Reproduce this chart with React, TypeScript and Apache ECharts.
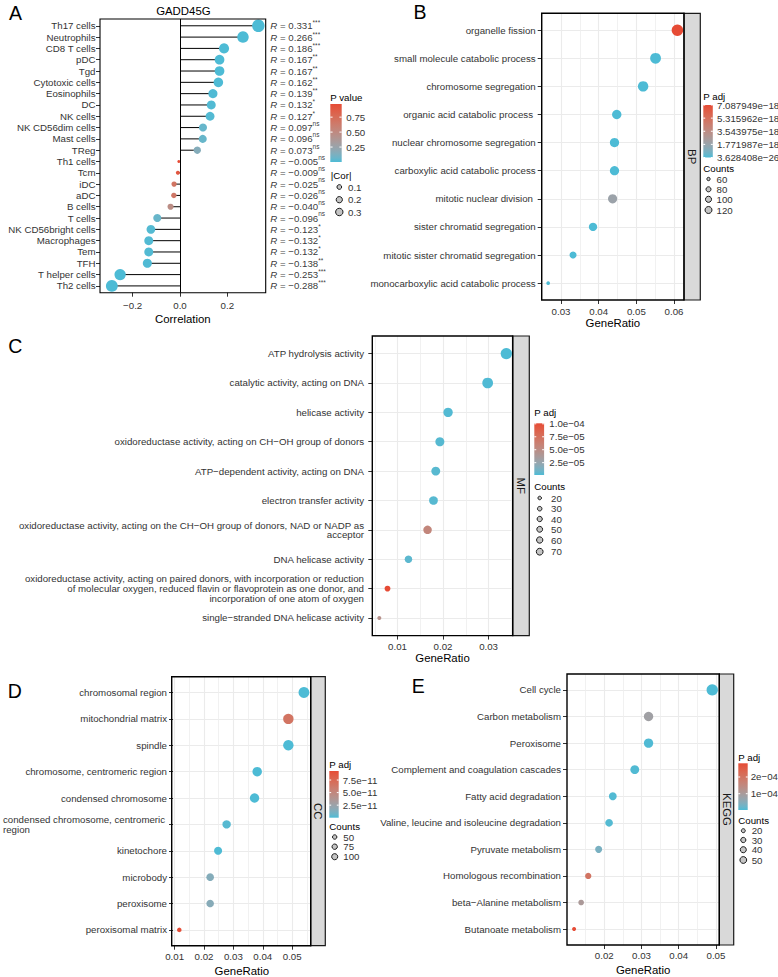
import React, { useEffect, useRef } from 'react';
import * as echarts from 'echarts';

const FONT = '"Liberation Sans", Arial, Helvetica, sans-serif';
const TICK_FS = 9.7;
const TITLE_FS = 11.4;
const TEXT_COLOR = '#333333';

// ---------------- Panel A data ----------------
const immuneCells = ['Th17 cells', 'Neutrophils', 'CD8 T cells', 'pDC', 'Tgd', 'Cytotoxic cells', 'Eosinophils', 'DC', 'NK cells', 'NK CD56dim cells', 'Mast cells', 'TReg', 'Th1 cells', 'Tcm', 'iDC', 'aDC', 'B cells', 'T cells', 'NK CD56bright cells', 'Macrophages', 'Tem', 'TFH', 'T helper cells', 'Th2 cells'];
const corValues = [0.331, 0.266, 0.186, 0.167, 0.167, 0.162, 0.139, 0.132, 0.127, 0.097, 0.096, 0.073, -0.005, -0.009, -0.025, -0.026, -0.040, -0.096, -0.123, -0.132, -0.132, -0.138, -0.253, -0.288];
const corPValues = [2e-10, 1.5e-7, 2.6e-4, 1.1e-3, 1.1e-3, 1.5e-3, 6.5e-3, 0.0105, 0.0135, 0.059, 0.061, 0.155, 0.97, 0.9, 0.68, 0.66, 0.47, 0.062, 0.016, 0.0105, 0.0105, 0.0069, 6e-7, 1e-8];
const corStars = ['***', '***', '***', '**', '**', '**', '**', '*', '*', 'ns', 'ns', 'ns', 'ns', 'ns', 'ns', 'ns', 'ns', 'ns', '*', '*', '*', '**', '***', '***'];
const ticksA = [-0.2, 0, 0.2];
const legendPValueA = [0.25, 0.5, 0.75];
const legendPValueALabels = ['0.25', '0.50', '0.75'];
const legendCorA = [0.1, 0.2, 0.3];

// ---------------- Panel B (BP) ----------------
const bpTerms = ['organelle fission', 'small molecule catabolic process', 'chromosome segregation', 'organic acid catabolic process ', 'nuclear chromosome segregation', 'carboxylic acid catabolic process', 'mitotic nuclear division ', 'sister chromatid segregation', 'mitotic sister chromatid segregation', 'monocarboxylic acid catabolic process'];
const bpGeneRatio = [0.0609, 0.0551, 0.0518, 0.0448, 0.0442, 0.0442, 0.0437, 0.0385, 0.0332, 0.0266];
const bpCounts = [122, 110, 104, 90, 88, 88, 87, 77, 66, 53];
const bpPadj = [7.087949e-18, 2.1e-22, 3.628408e-26, 4.5e-21, 1.2e-23, 5.3e-21, 1.9e-18, 8.2e-24, 1.6e-22, 3.1e-20];
const ticksB = [0.03, 0.04, 0.05, 0.06];
const minorB = [0.025, 0.035, 0.045, 0.055];
const legendPadjB = [3.628408e-26, 1.771987e-18, 3.543975e-18, 5.315962e-18, 7.087949e-18];
const legendPadjBLabels = ['3.628408e\u221226', '1.771987e\u221218', '3.543975e\u221218', '5.315962e\u221218', '7.087949e\u221218'];
const legendCountsB = [60, 80, 100, 120];

// ---------------- Panel C (MF) ----------------
const mfTerms = ['ATP hydrolysis activity', 'catalytic activity, acting on DNA', 'helicase activity', 'oxidoreductase activity, acting on CH\u2212OH group of donors', 'ATP\u2212dependent activity, acting on DNA', 'electron transfer activity', 'oxidoreductase activity, acting on the CH\u2212OH group of donors, NAD or NADP as\nacceptor', 'DNA helicase activity', 'oxidoreductase activity, acting on paired donors, with incorporation or reduction\nof molecular oxygen, reduced flavin or flavoprotein as one donor, and\nincorporation of one atom of oxygen', 'single\u2212stranded DNA helicase activity'];
const mfGeneRatio = [0.0339, 0.0298, 0.0211, 0.0193, 0.0184, 0.0179, 0.0166, 0.0124, 0.0078, 0.0060];
const mfCounts = [73, 64, 45, 41, 40, 38, 36, 27, 17, 13];
const mfPadj = [1.2e-6, 1.9e-6, 2.6e-6, 3.3e-6, 3.9e-6, 3.5e-6, 5.6e-5, 4.8e-6, 1.01e-4, 4.6e-5];
const ticksC = [0.01, 0.02, 0.03];
const minorC = [0.005, 0.015, 0.025, 0.035];
const legendPadjC = [2.5e-5, 5e-5, 7.5e-5, 1e-4];
const legendPadjCLabels = ['2.5e\u221205', '5.0e\u221205', '7.5e\u221205', '1.0e\u221204'];
const legendCountsC = [20, 30, 40, 50, 60, 70];

// ---------------- Panel D (CC) ----------------
const ccTerms = ['chromosomal region', 'mitochondrial matrix', 'spindle', 'chromosome, centromeric region', 'condensed chromosome', 'condensed chromosome, centromeric\nregion', 'kinetochore', 'microbody', 'peroxisome', 'peroxisomal matrix'];
const ccGeneRatio = [0.0540, 0.0487, 0.0487, 0.0381, 0.0372, 0.0277, 0.0248, 0.0221, 0.0221, 0.0116];
const ccCounts = [119, 107, 107, 84, 82, 61, 55, 49, 49, 26];
const ccPadj = [1e-20, 6.6e-11, 2.2e-17, 4.4e-15, 1.3e-14, 2.2e-12, 3.5e-13, 1.5e-11, 1.6e-11, 9.3e-11];
const ticksD = [0.01, 0.02, 0.03, 0.04, 0.05];
const minorD = [0.015, 0.025, 0.035, 0.045, 0.055];
const legendPadjD = [2.5e-11, 5e-11, 7.5e-11];
const legendPadjDLabels = ['2.5e\u221211', '5.0e\u221211', '7.5e\u221211'];
const legendCountsD = [50, 75, 100];

// ---------------- Panel E (KEGG) ----------------
const keggTerms = ['Cell cycle', 'Carbon metabolism', 'Peroxisome', 'Complement and coagulation cascades', 'Fatty acid degradation', 'Valine, leucine and isoleucine degradation', 'Pyruvate metabolism', 'Homologous recombination', 'beta\u2212Alanine metabolism', 'Butanoate metabolism'];
const keggGeneRatio = [0.0490, 0.0319, 0.0319, 0.0282, 0.0223, 0.0213, 0.0185, 0.0157, 0.0138, 0.0119];
const keggCounts = [52, 34, 34, 30, 24, 23, 20, 17, 15, 13];
const keggPadj = [2.4e-6, 8.5e-5, 4.1e-6, 5.2e-6, 6.0e-6, 7.3e-6, 3.6e-5, 2.0e-4, 1.05e-4, 2.82e-4];
const ticksE = [0.02, 0.03, 0.04, 0.05];
const minorE = [0.015, 0.025, 0.035, 0.045];
const legendPadjE = [1e-4, 2e-4];
const legendPadjELabels = ['1e\u221204', '2e\u221204'];
const legendCountsE = [20, 30, 40, 50];

// ---------------- colour helpers (Lab interpolation like ggplot) ----------------
const LOW = '#4DBBD5';
const HIGH = '#E64B35';
function s2l(c: number) { c /= 255; return c <= 0.04045 ? c / 12.92 : Math.pow((c + 0.055) / 1.055, 2.4); }
function l2s(c: number) { const v = c <= 0.0031308 ? 12.92 * c : 1.055 * Math.pow(c, 1 / 2.4) - 0.055; return Math.round(Math.max(0, Math.min(1, v)) * 255); }
const XN = 0.95047, YN = 1, ZN = 1.08883;
function fLab(t: number) { return t > 0.008856 ? Math.cbrt(t) : 7.787 * t + 16 / 116; }
function fInv(t: number) { return t * t * t > 0.008856 ? t * t * t : (t - 16 / 116) / 7.787; }
function hexToLab(h: string) {
  const r = s2l(parseInt(h.slice(1, 3), 16)), g = s2l(parseInt(h.slice(3, 5), 16)), b = s2l(parseInt(h.slice(5, 7), 16));
  const X = 0.4124 * r + 0.3576 * g + 0.1805 * b;
  const Y = 0.2126 * r + 0.7152 * g + 0.0722 * b;
  const Z = 0.0193 * r + 0.1192 * g + 0.9505 * b;
  const fy = fLab(Y / YN);
  return [116 * fy - 16, 500 * (fLab(X / XN) - fy), 200 * (fy - fLab(Z / ZN))];
}
function labToHex(L: number, a: number, b: number) {
  const fy = (L + 16) / 116, fx = fy + a / 500, fz = fy - b / 200;
  const X = XN * fInv(fx), Y = YN * fInv(fy), Z = ZN * fInv(fz);
  const r = 3.2406 * X - 1.5372 * Y - 0.4986 * Z;
  const g = -0.9689 * X + 1.8758 * Y + 0.0415 * Z;
  const bb = 0.0557 * X - 0.2040 * Y + 1.0570 * Z;
  const hx = (v: number) => l2s(v).toString(16).padStart(2, '0');
  return '#' + hx(r) + hx(g) + hx(bb);
}
const labLow = hexToLab(LOW), labHigh = hexToLab(HIGH);
const N_STOPS = 15;
const STOPS = Array.from({ length: N_STOPS }, (_, i) => {
  const t = i / (N_STOPS - 1);
  return labToHex(labLow[0] + (labHigh[0] - labLow[0]) * t, labLow[1] + (labHigh[1] - labLow[1]) * t, labLow[2] + (labHigh[2] - labLow[2]) * t);
});

function sizeScale(vals: number[], dmin: number, dmax: number) {
  const lo = Math.min(...vals), hi = Math.max(...vals);
  return (v: number) => dmin + (dmax - dmin) * Math.sqrt(Math.max(0, Math.min(1, (v - lo) / (hi - lo))));
}
const minus = (s: string) => s.replace(/-/g, '\u2212');

type Box = { l: number; t: number; r: number; b: number };

function buildOption() {
  const grid: any[] = [];
  const xAxis: any[] = [];
  const yAxis: any[] = [];
  const series: any[] = [];
  const visualMap: any[] = [];
  const g: any[] = [];

  const text = (t: string, x: number, y: number, o: any = {}) => {
    g.push({
      type: 'text', x, y, z: 120, silent: true, rotation: o.rot || 0,
      style: {
        text: t, fill: o.fill || '#000', fontSize: o.fs || TICK_FS, fontFamily: FONT,
        align: o.align || 'left', textAlign: o.align || 'left',
        verticalAlign: 'middle', textVerticalAlign: 'middle',
      },
    });
  };
  const border = (bx: Box, w: number) => {
    g.push({ type: 'rect', z: 110, silent: true, shape: { x: bx.l, y: bx.t, width: bx.r - bx.l, height: bx.b - bx.t }, style: { fill: 'none', stroke: '#000', lineWidth: w } });
  };
  const strip = (bx: Box, w: number, label: string) => {
    g.push({ type: 'rect', z: 105, silent: true, shape: { x: bx.r, y: bx.t, width: w, height: bx.b - bx.t }, style: { fill: '#D9D9D9', stroke: '#1A1A1A', lineWidth: 1.2 } });
    text(label, bx.r + w / 2, (bx.t + bx.b) / 2, { rot: -Math.PI / 2, align: 'center', fs: TITLE_FS, fill: '#1A1A1A' });
  };
  const colorLegend = (c: any, pmin: number, pmax: number, vals: number[], labels: string[]) => {
    text(c.title, c.titleX, c.titleY);
    const stops = STOPS.map((col, i) => ({ offset: i / (N_STOPS - 1), color: col }));
    g.push({ type: 'rect', z: 115, silent: true, shape: { x: c.barX, y: c.barTop, width: c.barW, height: c.barBottom - c.barTop }, style: { fill: new echarts.graphic.LinearGradient(0, 1, 0, 0, stops) } });
    vals.forEach((v, i) => {
      const y = c.barBottom - (v - pmin) / (pmax - pmin) * (c.barBottom - c.barTop);
      const tl = c.barW / 5;
      g.push({ type: 'line', z: 116, silent: true, shape: { x1: c.barX, y1: y, x2: c.barX + tl, y2: y }, style: { stroke: '#fff', lineWidth: 1 } });
      g.push({ type: 'line', z: 116, silent: true, shape: { x1: c.barX + c.barW - tl, y1: y, x2: c.barX + c.barW, y2: y }, style: { stroke: '#fff', lineWidth: 1 } });
      text(labels[i], c.labelX, y, { fill: TEXT_COLOR });
    });
  };
  const sizeLegend = (c: any, vals: number[], labels: string[], sz: (v: number) => number) => {
    text(c.sizeTitle, c.titleX, c.sizeTitleY);
    vals.forEach((v, i) => {
      const r = Math.max(1.2, 0.35 * sz(v) - 0.5);
      g.push({ type: 'circle', z: 115, silent: true, shape: { cx: c.circleX, cy: c.circleYs[i], r }, style: { fill: '#C4C4C4', stroke: '#1A1A1A', lineWidth: 1 } });
      text(labels[i], c.sizeLabelX, c.circleYs[i], { fill: TEXT_COLOR });
    });
  };

  // ---------------- Panel A ----------------
  const A: Box = { l: 100, t: 19, r: 265.7, b: 292.7 };
  const idxA = immuneCells.map((_, i) => i);
  grid.push({ left: A.l, top: A.t, width: A.r - A.l, height: A.b - A.t });
  const aXMax = 0.362;
  xAxis.push({
    gridIndex: 0, type: 'value', min: -0.338, max: aXMax, position: 'bottom',
    axisLine: { show: false, onZero: false },
    axisTick: { show: true, length: 4, customValues: ticksA, lineStyle: { color: '#333', width: 1 } },
    axisLabel: { customValues: ticksA, formatter: (v: number) => minus(v.toFixed(1)), margin: 8, fontSize: TICK_FS, color: TEXT_COLOR, fontFamily: FONT },
    splitLine: { show: false },
    name: 'Correlation', nameLocation: 'middle', nameGap: 20.6,
    nameTextStyle: { fontSize: TITLE_FS, color: '#000', fontFamily: FONT },
  });
  yAxis.push({
    gridIndex: 0, type: 'value', inverse: true, min: -0.6, max: immuneCells.length - 0.4, position: 'left',
    axisLine: { show: false, onZero: false },
    axisTick: { show: true, length: 4, customValues: idxA, lineStyle: { color: '#333', width: 1 } },
    axisLabel: { customValues: idxA, formatter: (v: number) => immuneCells[Math.round(v)], margin: 4.5, fontSize: TICK_FS, color: TEXT_COLOR, fontFamily: FONT },
    splitLine: { show: false },
  });
  const sizeA = sizeScale(corValues.map(Math.abs), 3, 12.5);
  series.push({
    type: 'custom', xAxisIndex: 0, yAxisIndex: 0, z: 2, silent: true,
    data: corValues.map((v, i) => [v, i]),
    renderItem: (_p: any, api: any) => {
      const p0 = api.coord([0, api.value(1)]);
      const p1 = api.coord([api.value(0), api.value(1)]);
      return { type: 'line', shape: { x1: p0[0], y1: p0[1], x2: p1[0], y2: p1[1] }, style: { stroke: '#000', lineWidth: 1 } };
    },
  });
  const aDotsIndex = series.length;
  series.push({
    type: 'scatter', xAxisIndex: 0, yAxisIndex: 0, z: 3, silent: true,
    data: corValues.map((v, i) => [v, i, Math.abs(v), corPValues[i]]),
    symbolSize: (v: number[]) => sizeA(v[2]),
    itemStyle: { opacity: 1 },
    markLine: { silent: true, symbol: ['none', 'none'], label: { show: false }, lineStyle: { type: 'solid', color: '#000', width: 1 }, data: [{ xAxis: 0 }] },
  });
  visualMap.push({ type: 'continuous', show: false, seriesIndex: aDotsIndex, dimension: 3, min: Math.min(...corPValues), max: Math.max(...corPValues), inRange: { color: STOPS } });
  series.push({
    type: 'scatter', xAxisIndex: 0, yAxisIndex: 0, z: 4, silent: true,
    data: corValues.map((_, i) => [aXMax, i]),
    symbolSize: 0.01, itemStyle: { color: 'rgba(0,0,0,0)' },
    label: {
      show: true, position: 'right', distance: 4.6,
      formatter: (p: any) => {
        const i = p.dataIndex;
        const st = corStars[i];
        return `{i|R}{n| = ${minus(corValues[i].toFixed(3))}}{${st === 'ns' ? 'ns' : 'st'}|${st}}`;
      },
      rich: {
        i: { fontStyle: 'italic', fontSize: TICK_FS, fontFamily: FONT, color: '#000' },
        n: { fontSize: TICK_FS, fontFamily: FONT, color: '#000' },
        st: { fontSize: 6.5, fontFamily: FONT, color: '#000', padding: [0, 0, 6, 0] },
        ns: { fontSize: 6.5, fontFamily: FONT, color: '#000', padding: [0, 0, 8.4, 0] },
      },
    },
  });
  border(A, 1.1);
  text('GADD45G', (A.l + A.r) / 2 + 0.5, 10.7, { align: 'center', fs: TITLE_FS });
  text('A', 9, 13, { fs: 19.5 });
  colorLegend({ title: 'P value', titleX: 330.3, titleY: 97.7, barX: 330.3, barTop: 104, barBottom: 162, barW: 11.4, labelX: 346.3 }, Math.min(...corPValues), Math.max(...corPValues), legendPValueA, legendPValueALabels);
  sizeLegend({ sizeTitle: '|Cor|', titleX: 330.8, sizeTitleY: 175, circleX: 339.3, circleYs: [187, 199.7, 212], sizeLabelX: 348 }, legendCorA, legendCorA.map(String), sizeA);

  // ---------------- Panels B-E ----------------
  const panels = [
    {
      letter: 'B', letterX: 413.5, letterY: 12, terms: bpTerms, ratio: bpGeneRatio, counts: bpCounts, padj: bpPadj,
      box: { l: 541.7, t: 13.3, r: 684, b: 300 }, stripW: 16.3, stripLabel: 'BP',
      xmin: 0.02488, xmax: 0.06265, ticks: ticksB, minor: minorB, yMargin: 6, xMargin: 6, nameGap: 17,
      dmin: 3.7, dmax: 11.5,
      cl: { title: 'P adj', titleX: 703.3, titleY: 96, barX: 703.3, barTop: 105, barBottom: 157.5, barW: 9.5, labelX: 717 },
      lv: legendPadjB, ll: legendPadjBLabels,
      sl: { sizeTitle: 'Counts', titleX: 703.3, sizeTitleY: 168, circleX: 708.5, circleYs: [179, 189.3, 199.3, 210], sizeLabelX: 716.5 },
      cv: legendCountsB,
    },
    {
      letter: 'C', letterX: 8.3, letterY: 345.7, terms: mfTerms, ratio: mfGeneRatio, counts: mfCounts, padj: mfPadj,
      box: { l: 372.3, t: 336, r: 512.7, b: 635.6 }, stripW: 16.6, stripLabel: 'MF',
      xmin: 0.00446, xmax: 0.0353, ticks: ticksC, minor: minorC, yMargin: 8.3, xMargin: 6.2, nameGap: 16.7,
      dmin: 4, dmax: 11.3,
      cl: { title: 'P adj', titleX: 534.3, titleY: 412.7, barX: 534.3, barTop: 423.3, barBottom: 475, barW: 9.8, labelX: 549.3 },
      lv: legendPadjC, ll: legendPadjCLabels,
      sl: { sizeTitle: 'Counts', titleX: 534.3, sizeTitleY: 486.7, circleX: 539.7, circleYs: [498, 508.7, 519, 529.3, 540, 551.7], sizeLabelX: 551 },
      cv: legendCountsC,
    },
    {
      letter: 'D', letterX: 7.7, letterY: 690.5, terms: ccTerms, ratio: ccGeneRatio, counts: ccCounts, padj: ccPadj,
      box: { l: 171.7, t: 676.7, r: 310.7, b: 945.7 }, stripW: 14.6, stripLabel: 'CC',
      xmin: 0.00946, xmax: 0.0563, ticks: ticksD, minor: minorD, yMargin: 6, xMargin: 5.5, nameGap: 19.3,
      dmin: 4.5, dmax: 10.8,
      cl: { title: 'P adj', titleX: 329.3, titleY: 764.3, barX: 329.3, barTop: 771, barBottom: 817.7, barW: 9.4, labelX: 342.7 },
      lv: legendPadjD, ll: legendPadjDLabels,
      sl: { sizeTitle: 'Counts', titleX: 329.3, sizeTitleY: 826.7, circleX: 334.7, circleYs: [837, 846.7, 856.7], sizeLabelX: 343.3 },
      cv: legendCountsD, leftLines: true,
    },
    {
      letter: 'E', letterX: 411.7, letterY: 685.5, terms: keggTerms, ratio: keggGeneRatio, counts: keggCounts, padj: keggPadj,
      box: { l: 567, t: 674, r: 719.3, b: 945 }, stripW: 14.4, stripLabel: 'KEGG',
      xmin: 0.0100, xmax: 0.0509, ticks: ticksE, minor: minorE, yMargin: 6, xMargin: 5.5, nameGap: 19.3,
      dmin: 4, dmax: 11.3,
      cl: { title: 'P adj', titleX: 738.3, titleY: 757, barX: 738.3, barTop: 763.3, barBottom: 810, barW: 9.4, labelX: 750.7 },
      lv: legendPadjE, ll: legendPadjELabels,
      sl: { sizeTitle: 'Counts', titleX: 738.3, sizeTitleY: 820, circleX: 743.3, circleYs: [830.7, 840, 849.7, 860], sizeLabelX: 751.7 },
      cv: legendCountsE,
    },
  ];

  panels.forEach((P: any) => {
    const gi = grid.length;
    const bx: Box = P.box;
    grid.push({ left: bx.l, top: bx.t, width: bx.r - bx.l, height: bx.b - bx.t });
    const xi = xAxis.length;
    xAxis.push({
      gridIndex: gi, type: 'value', min: P.xmin, max: P.xmax, position: 'bottom',
      axisLine: { show: false, onZero: false },
      axisTick: { show: true, length: 4, customValues: P.ticks, lineStyle: { color: '#333', width: 1 } },
      axisLabel: { customValues: P.ticks, formatter: (v: number) => v.toFixed(2), margin: P.xMargin, fontSize: TICK_FS, color: TEXT_COLOR, fontFamily: FONT },
      splitLine: { show: true, lineStyle: { color: '#EBEBEB', width: 1.1 } },
      name: 'GeneRatio', nameLocation: 'middle', nameGap: P.nameGap,
      nameTextStyle: { fontSize: TITLE_FS, color: '#000', fontFamily: FONT },
    });
    xAxis.push({
      gridIndex: gi, type: 'value', min: P.xmin, max: P.xmax, position: 'top',
      axisLine: { show: false, onZero: false },
      axisTick: { show: false, customValues: P.minor },
      axisLabel: { show: false, customValues: P.minor },
      splitLine: { show: true, lineStyle: { color: '#EDEDED', width: 0.8 } },
    });
    const yi = yAxis.length;
    const idx = P.terms.map((_: any, i: number) => i);
    const terms: string[] = P.terms;
    yAxis.push({
      gridIndex: gi, type: 'value', inverse: true, min: -0.6, max: terms.length - 0.4, position: 'left',
      axisLine: { show: false, onZero: false },
      axisTick: { show: true, length: 4, customValues: idx, lineStyle: { color: '#333', width: 1 } },
      axisLabel: {
        customValues: idx, margin: P.yMargin, fontSize: TICK_FS, color: TEXT_COLOR, fontFamily: FONT, lineHeight: 9.7,
        formatter: (v: number) => {
          const s = terms[Math.round(v)];
          if (P.leftLines && s.indexOf('\n') >= 0) return s.split('\n').map((t) => `{l|${t}}`).join('\n');
          return s;
        },
        rich: { l: { width: 164, align: 'left', fontSize: TICK_FS, fontFamily: FONT, color: TEXT_COLOR, lineHeight: 9.7 } },
      },
      splitLine: { show: true, lineStyle: { color: '#EBEBEB', width: 1.1 } },
    });
    const sz = sizeScale(P.counts, P.dmin, P.dmax);
    const si = series.length;
    series.push({
      type: 'scatter', xAxisIndex: xi, yAxisIndex: yi, z: 3, silent: true,
      data: P.ratio.map((r: number, i: number) => [r, i, P.counts[i], P.padj[i]]),
      symbolSize: (v: number[]) => sz(v[2]),
      itemStyle: { opacity: 1 },
    });
    const pmin = Math.min(...P.padj), pmax = Math.max(...P.padj);
    visualMap.push({ type: 'continuous', show: false, seriesIndex: si, dimension: 3, min: pmin, max: pmax, inRange: { color: STOPS } });
    strip(bx, P.stripW, P.stripLabel);
    border(bx, 1.4);
    text(P.letter, P.letterX, P.letterY, { fs: 19.5 });
    colorLegend(P.cl, pmin, pmax, P.lv, P.ll);
    sizeLegend(P.sl, P.cv, P.cv.map(String), sz);
  });

  return {
    animation: false,
    backgroundColor: '#fff',
    textStyle: { fontFamily: FONT },
    grid, xAxis, yAxis, series, visualMap,
    graphic: { elements: g },
  };
}

export default function App() {
  const ref = useRef<HTMLDivElement>(null);
  useEffect(() => {
    document.body.style.margin = '0';
    const chart = echarts.init(ref.current as HTMLDivElement, null, { renderer: 'svg' });
    chart.setOption(buildOption() as any);
    return () => chart.dispose();
  }, []);
  return <div ref={ref} style={{ width: 778, height: 977 }} />;
}
